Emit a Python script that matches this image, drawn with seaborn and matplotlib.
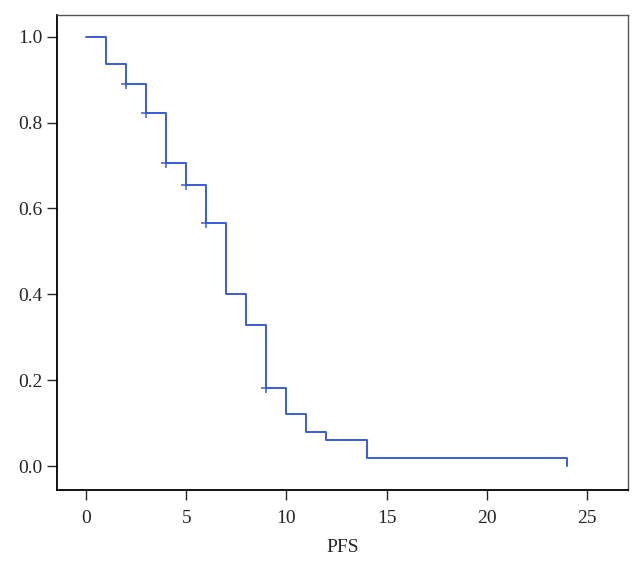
import seaborn as sns
import matplotlib.pyplot as plt
import pandas as pd

times = [0, 1, 2, 3, 4, 5, 6, 7, 8, 9, 10, 11, 12, 14, 24]
survival = [1.0, 0.937, 0.889, 0.823, 0.706, 0.654, 0.565, 0.400, 0.328, 0.181, 0.121, 0.080, 0.060, 0.018, 0.0]
censor_times = [2, 3, 4, 5, 6, 9]
censor_surv = [0.889, 0.823, 0.706, 0.654, 0.565, 0.181]

sns.set_style('ticks')
plt.rcParams['font.family'] = ['Liberation Serif', 'DejaVu Serif']

df = pd.DataFrame({'PFS': times, 'surv': survival})
cens = pd.DataFrame({'PFS': censor_times, 'surv': censor_surv})

fig = plt.figure(figsize=(6.42, 5.68), dpi=100)
ax = fig.add_axes([0.089, 0.137, 0.889, 0.837])
sns.lineplot(data=df, x='PFS', y='surv', drawstyle='steps-post', color='#3b5bdb', linewidth=1.4, ax=ax)
sns.scatterplot(data=cens, x='PFS', y='surv', marker='+', s=45, color='#3b5bdb', linewidth=1.1, ax=ax, zorder=3)

ax.set_xlim(-1.45, 27.05)
ax.set_ylim(-0.056, 1.051)
ax.set_xticks([0, 5, 10, 15, 20, 25])
ax.set_yticks([0.0, 0.2, 0.4, 0.6, 0.8, 1.0])
ax.set_yticklabels(['0.0', '0.2', '0.4', '0.6', '0.8', '1.0'])
ax.tick_params(labelsize=14, length=7, width=1, direction='out')
ax.tick_params(axis='x', pad=7)
ax.set_xlabel('PFS', fontsize=14, labelpad=9)
ax.set_ylabel('')
for s in ['left', 'bottom']:
    ax.spines[s].set_color('black')
    ax.spines[s].set_linewidth(1.3)
for s in ['top', 'right']:
    ax.spines[s].set_color('#555555')
    ax.spines[s].set_linewidth(1.0)

fig.savefig('out.png', dpi=100)
